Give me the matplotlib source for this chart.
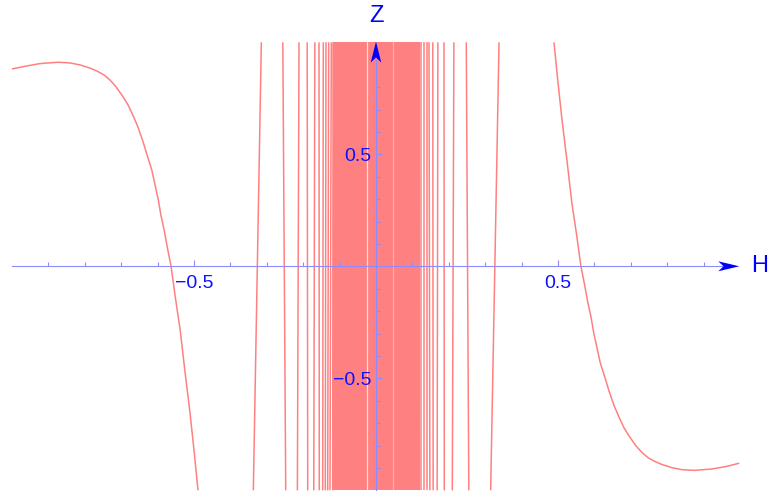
import matplotlib
matplotlib.use("Agg")
import matplotlib.pyplot as plt
from matplotlib.patches import Polygon

# Outer smooth arcs of Z(H)
left_curve_h = [-1.0, -0.964, -0.923, -0.874, -0.841, -0.813, -0.786, -0.767, -0.747, -0.731,
                -0.714, -0.695, -0.681, -0.668, -0.654, -0.640, -0.629, -0.616, -0.607,
                -0.598, -0.591, -0.582, -0.573, -0.563, -0.551, -0.538, -0.525, -0.511,
                -0.500, -0.490, -0.489]
left_curve_z = [0.881, 0.893, 0.905, 0.911, 0.908, 0.899, 0.885, 0.872, 0.854, 0.832,
                0.801, 0.757, 0.720, 0.675, 0.622, 0.556, 0.497, 0.430, 0.363,
                0.296, 0.229, 0.162, 0.082, 0.0, -0.142, -0.284, -0.467, -0.654,
                -0.820, -0.984, -1.0]

right_curve_h = [0.489, 0.490, 0.500, 0.511, 0.525, 0.538, 0.551, 0.563, 0.573, 0.582,
                 0.591, 0.598, 0.607, 0.616, 0.629, 0.640, 0.654, 0.668, 0.681, 0.695,
                 0.714, 0.731, 0.747, 0.767, 0.786, 0.813, 0.841, 0.874, 0.923, 0.964, 0.998]
right_curve_z = [1.0, 0.984, 0.820, 0.654, 0.467, 0.284, 0.142, 0.0, -0.082, -0.162,
                 -0.229, -0.296, -0.363, -0.430, -0.497, -0.556, -0.622, -0.675, -0.720, -0.757,
                 -0.801, -0.832, -0.854, -0.872, -0.885, -0.899, -0.908, -0.911, -0.905, -0.893, -0.879]

# Steep branches crossing the window: H where Z = -1 and where Z = +1
left_branch_bottom = [-0.337, -0.248, -0.216, -0.1876, -0.171, -0.1558, -0.1464, -0.1393,
                      -0.1327, -0.1264, -0.119]
left_branch_top = [-0.315, -0.256, -0.2115, -0.189, -0.168, -0.1566, -0.1448, -0.1374,
                   -0.130, -0.1228, -0.118]
right_branch_bottom = [0.315, 0.255, 0.2096, 0.1876, 0.168, 0.157, 0.148, 0.139, 0.133, 0.124]
right_branch_top = [0.338, 0.248, 0.214, 0.1868, 0.170, 0.156, 0.1456, 0.139, 0.133, 0.124]

# Densely oscillating core around H = 0
band_h = [-0.118, 0.121]
band_gap_h = [-0.0255, 0.0475]
band_gap_alpha = [0.75, 0.35]

x_major = [-0.5, 0.5]
x_major_labels = ["\u22120.5", "0.5"]
x_minor = [-0.9, -0.8, -0.7, -0.6, -0.4, -0.3, -0.2, -0.1, 0.1, 0.2, 0.3, 0.4, 0.6, 0.7, 0.8, 0.9]
y_major = [-0.5, 0.5]
y_major_labels = ["\u22120.5", "0.5"]
y_minor = [-0.9, -0.8, -0.7, -0.6, -0.4, -0.3, -0.2, -0.1, 0.1, 0.2, 0.3, 0.4, 0.6, 0.7, 0.8]

curve_color = "#ff8080"
axis_color = "#8c8cff"
label_color = "#1010ff"
plt.rcParams["font.family"] = ["Liberation Sans", "DejaVu Sans"]

fig = plt.figure(figsize=(7.69, 4.92), dpi=100)
ax = fig.add_axes([0, 0, 1, 1])
ax.set_xlim(-376 / 364, (769 - 376) / 364)
ax.set_ylim((266.3 - 492) / 224, 266.3 / 224)

lw = 1.1
ax.plot(left_curve_h, left_curve_z, color=curve_color, lw=lw, solid_capstyle="butt",
        solid_joinstyle="round")
ax.plot(right_curve_h, right_curve_z, color=curve_color, lw=lw, solid_capstyle="butt",
        solid_joinstyle="round")
for b, t in zip(left_branch_bottom, left_branch_top):
    ax.plot([b, t], [-1, 1], color=curve_color, lw=lw, solid_capstyle="butt")
for b, t in zip(right_branch_bottom, right_branch_top):
    ax.plot([b, t], [-1, 1], color=curve_color, lw=lw, solid_capstyle="butt")

ax.fill_between(band_h, [-1, -1], [1, 1], color=curve_color, lw=0)
for g, a in zip(band_gap_h, band_gap_alpha):
    ax.plot([g, g], [-1, 1], color="white", alpha=a, lw=0.9)

# Axes through the origin
for side in ("top", "right"):
    ax.spines[side].set_visible(False)
ax.spines["left"].set_position(("data", 0))
ax.spines["bottom"].set_position(("data", 0))
ax.spines["bottom"].set_bounds(-1.0, 0.95)
ax.spines["left"].set_bounds(-1.0, 0.92)
for side in ("left", "bottom"):
    ax.spines[side].set_color(axis_color)
    ax.spines[side].set_linewidth(0.8)
    ax.spines[side].set_zorder(4)
ax.set_axisbelow(False)
ax.xaxis.set_zorder(4)
ax.yaxis.set_zorder(4)

ax.set_xticks(x_major)
ax.set_xticklabels(x_major_labels)
ax.set_xticks(x_minor, minor=True)
ax.set_yticks(y_major)
ax.set_yticklabels(y_major_labels)
ax.set_yticks(y_minor, minor=True)
ax.tick_params(which="both", direction="in", color=axis_color, width=0.8)
ax.tick_params(which="major", length=4.4, labelsize=14, labelcolor=label_color)
ax.tick_params(which="minor", length=2.7)
ax.tick_params(axis="x", which="major", pad=6.0)
ax.tick_params(axis="y", which="major", pad=3.6)

# Arrow heads
hx_len = 21 / 364
hx_half = 5 / 224
ax.add_patch(Polygon([[0.998, 0], [0.998 - hx_len, hx_half], [0.998 - 0.75 * hx_len, 0],
                      [0.998 - hx_len, -hx_half]], closed=True, color="#0000ff", lw=0, zorder=6))
vy_len = 21 / 224
vy_half = 5.3 / 364
ax.add_patch(Polygon([[0, 1.003], [vy_half, 1.003 - vy_len], [0, 1.003 - 0.75 * vy_len],
                      [-vy_half, 1.003 - vy_len]], closed=True, color="#0000ff", lw=0, zorder=6))

ax.text(1.031, 0.0, "H", color="#0000ff", fontsize=17, ha="left", va="center")
ax.text(0.0, 1.117, "Z", color="#0000ff", fontsize=17, ha="center", va="center")

fig.savefig("out.png", dpi=100, facecolor="white")
